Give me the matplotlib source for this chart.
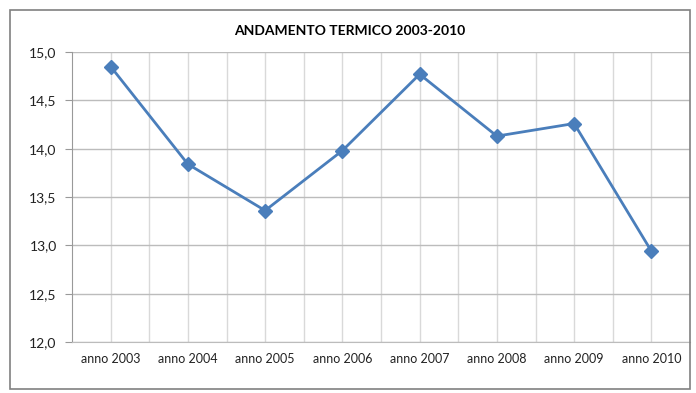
import numpy as np
import matplotlib.pyplot as plt
from matplotlib.patches import Rectangle
from matplotlib.ticker import FuncFormatter, MultipleLocator

# dati
anni = ["anno 2003", "anno 2004", "anno 2005", "anno 2006",
        "anno 2007", "anno 2008", "anno 2009", "anno 2010"]
temperature = [14.85, 13.84, 13.36, 13.98, 14.77, 14.13, 14.26, 12.94]

plt.rcParams['font.family'] = ['Lato', 'DejaVu Sans']

fig = plt.figure(figsize=(6.96, 3.93), dpi=100)
ax = fig.add_axes([72 / 696, 51 / 393, 618 / 696, 290 / 393])

x = np.arange(len(anni))
ax.plot(x, temperature, color="#4a7ebb", linewidth=2.0, marker="D",
        markersize=7, zorder=3)

ax.set_xlim(-0.5, len(anni) - 0.5)
ax.set_ylim(12.0, 15.0)
ax.set_xticks(x)
ax.set_xticklabels(anni, fontsize=9, color="#222222")
ax.set_xticks(x[:-1] + 0.5, minor=True)
ax.yaxis.set_major_locator(MultipleLocator(0.5))
ax.yaxis.set_major_formatter(FuncFormatter(lambda v, p: f"{v:.1f}".replace(".", ",")))
ax.tick_params(axis="y", labelsize=10, colors="#222222", length=5, color="#999999", pad=6)
ax.tick_params(axis="x", which="both", length=0, pad=8)

ax.grid(axis="y", color="#bcbcbc", linewidth=1.0)
ax.grid(axis="x", which="both", color="#d9d9d9", linewidth=1.0)
ax.set_axisbelow(True)

for s in ["top", "right"]:
    ax.spines[s].set_visible(False)
ax.spines["left"].set_color("#999999")
ax.spines["bottom"].set_color("#bcbcbc")

fig.text(350 / 696, 1 - 31 / 393, "ANDAMENTO TERMICO 2003-2010", ha="center",
         va="center", fontsize=10, fontweight="bold")

fig.patches.append(Rectangle((10 / 696, 4 / 393), 680 / 696, 379 / 393,
                             transform=fig.transFigure, fill=False,
                             edgecolor="#808080", linewidth=1.2))

fig.savefig("out.png", dpi=100)
